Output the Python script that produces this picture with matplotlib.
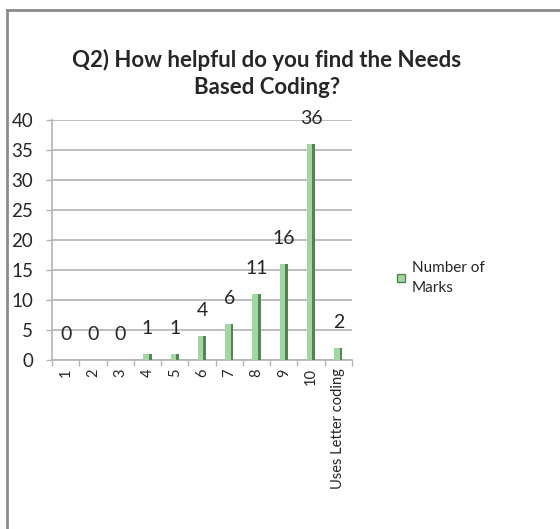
"""Gráfico de barras: Q2 Needs Based Coding."""

import matplotlib
matplotlib.use("Agg")
import matplotlib.pyplot as plt
from matplotlib.lines import Line2D
from matplotlib.patches import Patch

plt.rcParams.update({
    "font.family": ["Lato", "DejaVu Sans"],
    "font.size": 12,
    "text.color": "#222222",
})

# dados
categories = ["1", "2", "3", "4", "5", "6", "7", "8", "9", "10", "Uses Letter coding"]
marks = [0, 0, 0, 1, 1, 4, 6, 11, 16, 36, 2]
y_ticks = [0, 5, 10, 15, 20, 25, 30, 35, 40]
series_name = "Number of\nMarks"
title = "Q2) How helpful do you find the Needs\nBased Coding?"

_CLR_FACE = "#a3d6a3"
_CLR_SIDE = "#4f874f"
_CLR_GRID = "#b3b3b3"
_CLR_TXT = "#262626"

W, H = 560, 529
fig = plt.figure(figsize=(W / 100, H / 100), dpi=100)
fig.patch.set_facecolor("white")

# moldura do gráfico (só topo e esquerda aparecem)
fig.add_artist(Line2D([7 / W, 7 / W], [0, 1 - 10 / H], color="#8c8c8c", lw=2,
                      transform=fig.transFigure))
fig.add_artist(Line2D([7 / W, 1], [1 - 10 / H, 1 - 10 / H], color="#8c8c8c", lw=2,
                      transform=fig.transFigure))

ax = fig.add_axes([52 / W, (H - 360) / H, 300 / W, 240 / H])

x = list(range(len(categories)))
bw = 0.3
ax.bar(x, marks, width=bw, color=_CLR_FACE, zorder=3)
# lateral escura (efeito 3D)
ax.bar([i + bw / 2 - 0.05 for i in x], marks, width=0.1, color=_CLR_SIDE, zorder=4)

for xi, v in zip(x, marks):
    ax.annotate(str(v), xy=(xi, v), xytext=(0, 18), textcoords="offset points",
                ha="center", va="center", fontsize=14, color=_CLR_TXT, zorder=5)

ax.set_xlim(-0.5, len(categories) - 0.5)
ax.set_ylim(0, 40)
ax.set_yticks(y_ticks)
ax.tick_params(axis="y", length=4.5, width=1, color=_CLR_GRID, pad=9,
               labelsize=13.5, labelcolor=_CLR_TXT)
ax.yaxis.grid(True, color=_CLR_GRID, lw=1.2, zorder=0)

# ticks entre categorias, rótulos no centro
ax.set_xticks([i - 0.5 for i in range(len(categories) + 1)])
ax.set_xticklabels([])
ax.set_xticks(x, minor=True)
ax.set_xticklabels(categories, minor=True, rotation=90, fontsize=10.5, color=_CLR_TXT,
                   va="top", ha="center")
ax.tick_params(axis="x", which="major", length=4, width=1, color=_CLR_GRID)
ax.tick_params(axis="x", which="minor", length=0, pad=6)

for s in ["top", "right"]:
    ax.spines[s].set_visible(False)
for s in ["left", "bottom"]:
    ax.spines[s].set_color(_CLR_GRID)
    ax.spines[s].set_linewidth(1.2)
ax.set_axisbelow(True)

fig.text(267 / W, 1 - 73 / H, title, ha="center", va="center", fontsize=16,
         fontweight="bold", linespacing=1.35, color=_CLR_TXT)

handle = Patch(facecolor=_CLR_FACE, edgecolor=_CLR_SIDE, lw=1)
fig.legend([handle], [series_name], loc="center left",
           bbox_to_anchor=(397 / W, 1 - 278 / H), frameon=False,
           handlelength=0.5, handleheight=0.5, handletextpad=0.45,
           borderpad=0, borderaxespad=0, labelspacing=0,
           prop={"size": 11}, labelcolor=_CLR_TXT)
for t in fig.legends[0].get_texts():
    t.set_linespacing(1.6)

fig.savefig("out.png", dpi=100)
plt.close(fig)
